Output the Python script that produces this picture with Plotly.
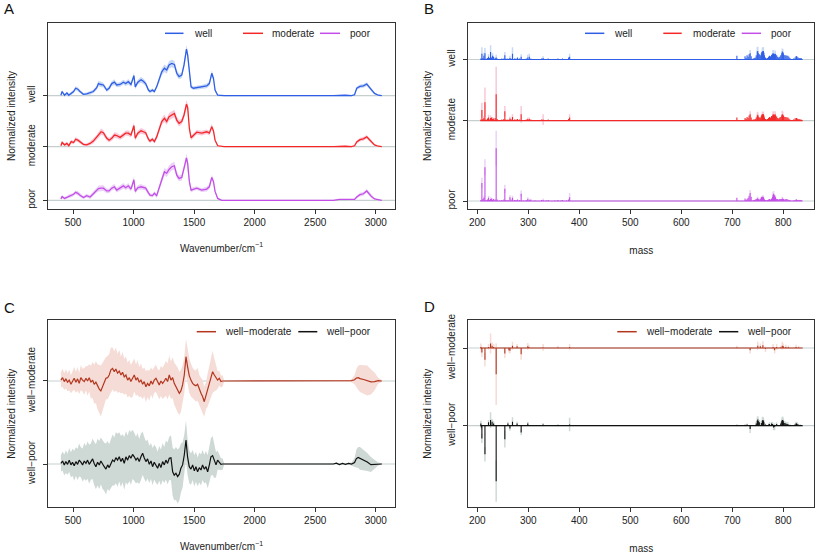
import plotly.graph_objects as go

FIG_W, FIG_H = 817, 555
FONT = "Liberation Sans, Arial, Helvetica, sans-serif"

# ---------------- Panel A: Raman spectra (mean +/- sd) ----------------
wn_A = [400, 410, 430, 450, 465, 485, 505, 522, 540, 558,
        586, 613, 641, 668, 696, 710, 732, 751, 779, 798,
        820, 842, 861, 889, 916, 935, 957, 979, 1003, 1014,
        1035, 1062, 1081, 1100, 1123, 1136, 1156, 1172, 1191, 1211,
        1233, 1255, 1274, 1293, 1315, 1337, 1357, 1376, 1398, 1417,
        1437, 1447, 1461, 1475, 1494, 1522, 1563, 1604, 1626, 1646,
        1660, 1673, 1695, 1728,
        1750, 2650, 2700, 2750, 2800, 2825, 2843, 2870, 2898, 2926,
        2945, 2965, 2990, 3021, 3050]
well_A = [0.01, 0.09, 0.01, 0.06, 0.01, 0.05, 0.09, 0.16, 0.14, 0.09,
          0.03, 0.04, 0.06, 0.09, 0.17, 0.26, 0.24, 0.23, 0.12, 0.16,
          0.26, 0.29, 0.23, 0.24, 0.29, 0.26, 0.30, 0.24, 0.43, 0.19,
          0.29, 0.34, 0.31, 0.26, 0.12, 0.09, 0.12, 0.09, 0.19, 0.34,
          0.51, 0.59, 0.55, 0.66, 0.69, 0.67, 0.48, 0.41, 0.44, 0.66,
          1.00, 0.87, 0.44, 0.19, 0.16, 0.17, 0.19, 0.21, 0.26, 0.48,
          0.37, 0.12, 0.01, 0.00,
          0.0, 0.0, 0.01, 0.01, 0.0, 0.02, 0.16, 0.20, 0.21, 0.25,
          0.19, 0.12, 0.05, 0.01, 0.0]
moderate_A = [0.02, 0.09, 0.04, 0.07, 0.02, 0.11, 0.09, 0.16, 0.14, 0.11,
              0.05, 0.04, 0.07, 0.12, 0.20, 0.25, 0.32, 0.30, 0.18, 0.14,
              0.18, 0.25, 0.24, 0.20, 0.25, 0.29, 0.29, 0.25, 0.45, 0.18,
              0.29, 0.34, 0.32, 0.30, 0.16, 0.12, 0.16, 0.11, 0.21, 0.36,
              0.54, 0.61, 0.54, 0.64, 0.68, 0.71, 0.57, 0.50, 0.54, 0.68,
              0.91, 0.84, 0.39, 0.19, 0.24, 0.31, 0.29, 0.32, 0.29, 0.43,
              0.34, 0.14, 0.02, 0.00,
              0.0, 0.0, 0.01, 0.01, 0.0, 0.02, 0.10, 0.15, 0.17, 0.21,
              0.16, 0.10, 0.04, 0.01, 0.0]
poor_A = [0.03, 0.08, 0.04, 0.06, 0.09, 0.10, 0.13, 0.17, 0.15, 0.11,
          0.06, 0.10, 0.07, 0.14, 0.22, 0.25, 0.26, 0.26, 0.20, 0.20,
          0.26, 0.29, 0.22, 0.27, 0.31, 0.27, 0.31, 0.24, 0.44, 0.19,
          0.27, 0.29, 0.27, 0.26, 0.16, 0.11, 0.10, 0.15, 0.10, 0.29,
          0.44, 0.61, 0.58, 0.66, 0.72, 0.74, 0.54, 0.47, 0.49, 0.69,
          0.91, 0.79, 0.40, 0.22, 0.24, 0.26, 0.22, 0.24, 0.29, 0.49,
          0.40, 0.19, 0.04, 0.00,
          0.0, 0.0, 0.02, 0.02, 0.01, 0.02, 0.07, 0.12, 0.14, 0.20,
          0.14, 0.08, 0.03, 0.01, 0.0]
sd_well_A = [0.02, 0.03, 0.03, 0.03, 0.03, 0.03, 0.04, 0.04, 0.04, 0.03,
             0.03, 0.03, 0.04, 0.04, 0.05, 0.06, 0.06, 0.05, 0.04, 0.05,
             0.05, 0.06, 0.05, 0.05, 0.05, 0.05, 0.06, 0.05, 0.06, 0.05,
             0.05, 0.06, 0.06, 0.05, 0.04, 0.04, 0.04, 0.04, 0.05, 0.06,
             0.07, 0.08, 0.08, 0.08, 0.08, 0.08, 0.07, 0.06, 0.06, 0.07,
             0.09, 0.08, 0.06, 0.04, 0.04, 0.04, 0.04, 0.05, 0.05, 0.06,
             0.05, 0.04, 0.02, 0.01,
             0.0, 0.0, 0.01, 0.01, 0.01, 0.02, 0.03, 0.04, 0.04, 0.04,
             0.04, 0.03, 0.02, 0.01, 0.0]
sd_moderate_A = [0.02, 0.03, 0.03, 0.04, 0.03, 0.04, 0.04, 0.05, 0.04, 0.04,
                 0.03, 0.03, 0.04, 0.05, 0.05, 0.06, 0.07, 0.06, 0.05, 0.05,
                 0.05, 0.06, 0.06, 0.05, 0.06, 0.05, 0.06, 0.05, 0.07, 0.05,
                 0.05, 0.06, 0.06, 0.05, 0.05, 0.04, 0.04, 0.04, 0.05, 0.06,
                 0.07, 0.08, 0.07, 0.08, 0.08, 0.08, 0.07, 0.07, 0.06, 0.07,
                 0.09, 0.08, 0.06, 0.05, 0.05, 0.05, 0.05, 0.05, 0.05, 0.06,
                 0.05, 0.04, 0.02, 0.01,
                 0.0, 0.0, 0.01, 0.01, 0.01, 0.02, 0.03, 0.04, 0.04, 0.04,
                 0.04, 0.03, 0.02, 0.01, 0.0]
sd_poor_A = [0.02, 0.03, 0.03, 0.03, 0.04, 0.04, 0.04, 0.04, 0.05, 0.04,
             0.03, 0.04, 0.04, 0.05, 0.05, 0.06, 0.06, 0.06, 0.05, 0.05,
             0.05, 0.06, 0.05, 0.06, 0.06, 0.05, 0.06, 0.05, 0.07, 0.05,
             0.05, 0.06, 0.05, 0.05, 0.05, 0.04, 0.04, 0.04, 0.05, 0.06,
             0.07, 0.08, 0.08, 0.08, 0.08, 0.08, 0.07, 0.06, 0.07, 0.07,
             0.09, 0.08, 0.06, 0.05, 0.04, 0.04, 0.04, 0.05, 0.05, 0.06,
             0.05, 0.04, 0.02, 0.01,
             0.0, 0.0, 0.01, 0.01, 0.01, 0.02, 0.03, 0.04, 0.04, 0.04,
             0.04, 0.03, 0.02, 0.01, 0.0]
groups_A = ["well", "moderate", "poor"]
offsets_A = [2.24, 1.148, 0.0]

# ---------------- Panel B: mass spectra ----------------
mass_B = [207, 209, 211, 213, 215, 217, 220, 222, 224, 226,
          228, 230, 232, 235, 237, 239, 244, 248, 252, 254,
          256, 260, 264, 266, 269, 273, 276, 279, 283, 286,
          290, 296, 299, 302, 305, 313, 326, 329, 335, 339,
          352, 358, 364, 367, 375, 379, 381,
          709, 725, 727, 729, 731, 733, 735, 737, 741, 743,
          745, 747, 749, 750, 751, 753, 755, 757, 758, 759,
          760, 761, 762, 763, 765, 767, 769, 771, 773, 775,
          777, 779, 780, 781, 782, 783, 784, 785, 787, 789,
          791, 793, 795, 797, 798, 799, 800, 801, 803, 805,
          807, 809, 811, 813, 820, 823, 825, 826, 827, 829,
          831, 833, 835]
well_B = [0.02, 0.11, 0.03, 0.07, 0.12, 0.02, 0.03, 0.05, 0.03, 0.14,
          0.04, 0.07, 0.05, 0.03, 0.04, 0.02, 0.01, 0.02, 0.02, 0.08,
          0.02, 0.02, 0.03, 0.02, 0.11, 0.02, 0.02, 0.04, 0.02, 0.05,
          0.01, 0.02, 0.04, 0.05, 0.02, 0.01, 0.02, 0.03, 0.01, 0.02,
          0.01, 0.02, 0.01, 0.02, 0.01, 0.04, 0.05,
          0.07, 0.06, 0.03, 0.08, 0.05, 0.10, 0.12, 0.06, 0.02, 0.03,
          0.04, 0.08, 0.15, 0.16, 0.12, 0.10, 0.08, 0.12, 0.14, 0.15,
          0.16, 0.16, 0.13, 0.08, 0.04, 0.02, 0.03, 0.05, 0.07, 0.06,
          0.09, 0.11, 0.12, 0.11, 0.10, 0.10, 0.11, 0.10, 0.08, 0.05,
          0.04, 0.05, 0.08, 0.12, 0.15, 0.14, 0.12, 0.09, 0.08, 0.08,
          0.07, 0.07, 0.05, 0.03, 0.02, 0.04, 0.06, 0.06, 0.05, 0.04,
          0.03, 0.03, 0.03]
moderate_B = [0.02, 0.20, 0.03, 0.05, 0.35, 0.02, 0.04, 0.06, 0.02, 0.05,
              0.06, 0.03, 0.04, 0.05, 0.50, 0.03, 0.01, 0.02, 0.03, 0.18,
              0.02, 0.02, 0.04, 0.03, 0.07, 0.02, 0.02, 0.03, 0.02, 0.12,
              0.01, 0.02, 0.03, 0.03, 0.02, 0.01, 0.02, 0.02, 0.01, 0.02,
              0.01, 0.01, 0.01, 0.01, 0.01, 0.03, 0.06,
              0.06, 0.05, 0.03, 0.07, 0.05, 0.10, 0.12, 0.06, 0.02, 0.02,
              0.03, 0.06, 0.10, 0.11, 0.08, 0.06, 0.06, 0.09, 0.11, 0.12,
              0.12, 0.12, 0.10, 0.06, 0.03, 0.02, 0.03, 0.05, 0.07, 0.06,
              0.09, 0.10, 0.12, 0.11, 0.10, 0.11, 0.12, 0.10, 0.08, 0.05,
              0.04, 0.06, 0.07, 0.10, 0.12, 0.11, 0.10, 0.08, 0.07, 0.07,
              0.06, 0.06, 0.04, 0.02, 0.02, 0.04, 0.05, 0.05, 0.04, 0.03,
              0.03, 0.02, 0.02]
poor_B = [0.02, 0.34, 0.04, 0.06, 0.64, 0.02, 0.03, 0.06, 0.02, 0.04,
          0.05, 0.02, 0.04, 0.03, 1.00, 0.03, 0.01, 0.02, 0.03, 0.23,
          0.02, 0.02, 0.07, 0.03, 0.06, 0.02, 0.02, 0.03, 0.02, 0.14,
          0.01, 0.02, 0.04, 0.02, 0.03, 0.01, 0.02, 0.02, 0.01, 0.02,
          0.01, 0.02, 0.01, 0.02, 0.01, 0.03, 0.07,
          0.06, 0.05, 0.02, 0.04, 0.06, 0.10, 0.15, 0.08, 0.02, 0.02,
          0.03, 0.04, 0.05, 0.05, 0.04, 0.03, 0.05, 0.07, 0.08, 0.07,
          0.08, 0.07, 0.05, 0.03, 0.02, 0.01, 0.02, 0.03, 0.04, 0.03,
          0.05, 0.08, 0.12, 0.14, 0.12, 0.10, 0.08, 0.06, 0.04, 0.04,
          0.03, 0.04, 0.04, 0.04, 0.05, 0.04, 0.04, 0.03, 0.03, 0.04,
          0.04, 0.03, 0.02, 0.02, 0.01, 0.02, 0.03, 0.03, 0.02, 0.02,
          0.02, 0.02, 0.02]
band_mass_B = [209, 213, 215, 222, 226, 230, 237, 254, 264, 269,
               286, 299, 302, 329, 381, 735, 749, 750, 759, 760,
               761, 780, 781, 784, 798, 799]
sd_well_B = [0.12, 0.06, 0.10, 0.05, 0.13, 0.05, 0.05, 0.06, 0.04, 0.12,
             0.05, 0.05, 0.06, 0.03, 0.06, 0.06, 0.08, 0.08, 0.07, 0.07,
             0.07, 0.06, 0.06, 0.06, 0.06, 0.06]
sd_moderate_B = [0.14, 0.04, 0.28, 0.05, 0.05, 0.04, 0.52, 0.10, 0.04, 0.05,
                 0.16, 0.03, 0.03, 0.10, 0.06, 0.06, 0.06, 0.06, 0.05, 0.05,
                 0.05, 0.06, 0.06, 0.06, 0.07, 0.06]
sd_poor_B = [0.10, 0.04, 0.15, 0.04, 0.04, 0.03, 0.33, 0.08, 0.04, 0.04,
             0.06, 0.03, 0.03, 0.03, 0.08, 0.06, 0.03, 0.03, 0.03, 0.03,
             0.03, 0.05, 0.05, 0.03, 0.03, 0.03]
offsets_B = [2.679, 1.521, 0.0]

# ---------------- Panel C: Raman difference spectra ----------------
wn_C = [400, 414, 428, 441, 455, 469, 483, 496, 510, 524,
        538, 551, 565, 579, 593, 607, 620, 634, 648, 662,
        675, 689, 703, 717, 730, 744, 758, 772, 786, 799,
        813, 827, 841, 854, 868, 882, 896, 909, 923, 937,
        951, 965, 978, 992, 1006, 1020, 1033, 1047, 1061, 1075,
        1088, 1102, 1116, 1130, 1144, 1157, 1171, 1185, 1199, 1212,
        1226, 1240, 1254, 1267, 1281, 1295, 1309, 1323, 1336, 1350,
        1364, 1378, 1391, 1405, 1419, 1433, 1446, 1460, 1474, 1488,
        1502, 1515, 1529, 1543, 1557, 1570, 1584, 1598, 1612, 1626,
        1639, 1653, 1667, 1681, 1694, 1708, 1722, 1736,
        1750, 2650, 2675, 2700, 2725, 2750, 2775, 2800, 2825, 2840,
        2855, 2870, 2900, 2930, 2960, 2990, 3020, 3050]
wm_C = [0.03, 0.11, -0.02, 0.07, -0.04, 0.03, -0.11, 0.00, 0.09, -0.04,
        0.07, -0.08, 0.11, 0.03, -0.02, 0.09, 0.00, 0.11, -0.04, 0.03,
        -0.11, -0.04, -0.19, -0.27, -0.33, -0.19, -0.04, 0.09, 0.11, 0.20,
        0.37, 0.42, 0.31, 0.40, 0.26, 0.33, 0.20, 0.29, 0.14, 0.20,
        0.03, 0.11, -0.02, 0.07, 0.20, 0.03, 0.11, -0.04, 0.03, -0.11,
        -0.02, -0.19, -0.08, -0.16, 0.00, -0.11, 0.03, 0.09, -0.04, -0.13,
        0.00, -0.08, 0.00, 0.09, -0.02, 0.20, 0.03, 0.11, -0.08, -0.19,
        -0.30, -0.41, -0.33, -0.13, 0.20, 0.81, 0.48, 0.18, 0.03, -0.08,
        -0.13, -0.16, -0.11, -0.30, -0.41, -0.52, -0.69, -0.49, -0.30, -0.08,
        0.14, 0.31, 0.20, 0.09, 0.03, 0.09, -0.02, 0.00,
        0.0, 0.0, 0.01, -0.01, 0.01, 0.00, -0.01, 0.01, 0.04, 0.10,
        0.11, 0.08, 0.05, 0.02, -0.03, -0.02, 0.01, 0.0]
wp_C = [0.02, 0.10, -0.03, 0.08, -0.01, 0.13, -0.03, 0.06, -0.06, 0.08,
        -0.01, 0.13, 0.06, -0.03, 0.10, 0.02, 0.13, -0.01, 0.08, 0.17,
        0.02, -0.09, 0.06, -0.03, 0.10, -0.01, -0.09, -0.17, -0.03, -0.12,
        0.02, 0.13, 0.08, 0.21, 0.13, 0.24, 0.08, 0.19, 0.02, 0.24,
        0.13, 0.28, 0.19, 0.32, 0.24, 0.13, 0.21, 0.08, 0.24, 0.36,
        0.21, 0.08, 0.17, -0.01, 0.10, -0.09, 0.06, -0.03, -0.14, 0.02,
        -0.12, 0.08, -0.03, 0.13, 0.02, 0.19, 0.21, -0.26, -0.37, -0.31,
        -0.42, -0.34, -0.14, -0.03, 0.30, 0.80, 0.24, -0.09, -0.17, -0.03,
        -0.23, -0.09, -0.26, -0.12, -0.20, -0.03, -0.17, -0.09, -0.26, -0.03,
        0.24, 0.28, 0.08, -0.03, 0.13, 0.06, -0.01, 0.00,
        0.0, 0.0, 0.03, -0.02, 0.02, -0.01, 0.02, 0.00, 0.05, 0.18,
        0.22, 0.19, 0.13, 0.07, -0.02, -0.01, 0.00, 0.0]
sd_wm_C = [0.25, 0.30, 0.28, 0.32, 0.30, 0.35, 0.30, 0.33, 0.38, 0.35,
           0.40, 0.35, 0.42, 0.38, 0.45, 0.40, 0.50, 0.45, 0.55, 0.60,
           0.65, 0.70, 0.75, 0.80, 0.85, 0.80, 0.75, 0.70, 0.72, 0.70,
           0.75, 0.70, 0.68, 0.72, 0.65, 0.70, 0.62, 0.68, 0.60, 0.62,
           0.58, 0.60, 0.55, 0.60, 0.55, 0.52, 0.58, 0.50, 0.55, 0.50,
           0.48, 0.52, 0.45, 0.50, 0.45, 0.48, 0.42, 0.46, 0.44, 0.48,
           0.50, 0.52, 0.55, 0.58, 0.60, 0.65, 0.62, 0.68, 0.70, 0.72,
           0.75, 0.72, 0.70, 0.65, 0.60, 0.60, 0.62, 0.58, 0.55, 0.52,
           0.50, 0.52, 0.55, 0.50, 0.52, 0.55, 0.50, 0.45, 0.55, 0.62,
           0.68, 0.70, 0.55, 0.40, 0.30, 0.25, 0.20, 0.18,
           0.0, 0.01, 0.02, 0.02, 0.02, 0.02, 0.03, 0.05, 0.15, 0.30,
           0.40, 0.45, 0.48, 0.50, 0.42, 0.30, 0.10, 0.03]
sd_wp_C = [0.28, 0.32, 0.35, 0.38, 0.35, 0.40, 0.42, 0.45, 0.50, 0.48,
           0.52, 0.55, 0.50, 0.55, 0.60, 0.58, 0.62, 0.65, 0.60, 0.68,
           0.72, 0.75, 0.78, 0.80, 0.78, 0.82, 0.80, 0.85, 0.80, 0.78,
           0.82, 0.85, 0.80, 0.85, 0.88, 0.82, 0.85, 0.80, 0.88, 0.85,
           0.82, 0.85, 0.88, 0.82, 0.80, 0.78, 0.82, 0.75, 0.78, 0.72,
           0.70, 0.68, 0.65, 0.62, 0.60, 0.62, 0.58, 0.60, 0.55, 0.58,
           0.60, 0.62, 0.60, 0.65, 0.70, 0.72, 0.75, 0.80, 0.85, 0.88,
           0.90, 0.88, 0.82, 0.75, 0.68, 0.65, 0.60, 0.55, 0.52, 0.50,
           0.52, 0.50, 0.48, 0.50, 0.52, 0.50, 0.48, 0.52, 0.55, 0.58,
           0.62, 0.65, 0.55, 0.42, 0.32, 0.25, 0.20, 0.18,
           0.0, 0.01, 0.03, 0.03, 0.03, 0.03, 0.03, 0.05, 0.15, 0.30,
           0.35, 0.38, 0.35, 0.30, 0.25, 0.15, 0.05, 0.02]
groups_C = ["well\u2212moderate", "well\u2212poor"]
offsets_C = [2.767, 0.0]

# ---------------- Panel D: mass difference spectra ----------------
mass_D_wm = [207, 208, 209, 215, 222, 226, 229, 232, 237, 254,
             262, 264, 269, 278, 286, 299, 301, 329, 358, 381,
             709, 735, 750, 755, 760, 765, 780, 783, 787, 795,
             798, 800, 805, 810, 825, 830]
wm_D = [0.02, -0.02, -0.08, -0.21, 0.02, 0.08, 0.04, 0.02, -0.47, -0.10,
        -0.04, -0.05, 0.04, 0.03, -0.11, 0.03, 0.02, 0.01, 0.01, 0.02,
        0.01, -0.04, 0.04, 0.03, 0.05, -0.02, 0.02, -0.04, 0.02, 0.01,
        0.04, 0.03, 0.02, 0.015, 0.02, 0.01]
sd_wm_D = [0.06, 0.06, 0.08, 0.12, 0.05, 0.18, 0.06, 0.05, 0.55, 0.08,
           0.04, 0.05, 0.07, 0.04, 0.10, 0.06, 0.04, 0.06, 0.03, 0.05,
           0.03, 0.06, 0.07, 0.05, 0.07, 0.05, 0.05, 0.06, 0.05, 0.03,
           0.07, 0.05, 0.04, 0.03, 0.04, 0.03]
mass_D_wp = [207, 208, 209, 215, 222, 226, 229, 232, 237, 254,
             260, 264, 269, 278, 286, 299, 329, 358, 381, 709,
             725, 729, 735, 747, 749, 750, 751, 753, 757, 759,
             760, 761, 762, 765, 771, 773, 777, 779, 781, 783,
             787, 795, 797, 798, 799, 800, 801, 803, 805, 807,
             809, 813, 823, 825, 826, 827, 829, 833]
wp_D = [0.04, -0.03, -0.23, -0.51, 0.06, 0.10, 0.07, 0.04, -0.99, -0.24,
        0.04, -0.05, 0.07, 0.04, -0.12, 0.04, 0.02, 0.01, 0.02, 0.01,
        0.01, 0.02, -0.06, 0.04, 0.09, 0.11, 0.08, 0.06, 0.05, 0.09,
        0.10, 0.09, 0.06, 0.02, 0.02, 0.03, 0.04, 0.03, -0.03, -0.02,
        0.03, 0.04, 0.08, 0.10, 0.10, 0.08, 0.05, 0.05, 0.04, 0.03,
        0.03, 0.01, 0.02, 0.04, 0.04, 0.03, 0.02, 0.01]
sd_wp_D = [0.05, 0.04, 0.08, 0.13, 0.04, 0.14, 0.05, 0.04, 0.37, 0.15,
           0.03, 0.04, 0.08, 0.03, 0.05, 0.03, 0.03, 0.02, 0.12, 0.02,
           0.02, 0.02, 0.07, 0.04, 0.06, 0.06, 0.05, 0.04, 0.04, 0.06,
           0.06, 0.05, 0.04, 0.02, 0.02, 0.03, 0.03, 0.03, 0.05, 0.06,
           0.03, 0.03, 0.05, 0.06, 0.06, 0.05, 0.04, 0.03, 0.03, 0.03,
           0.03, 0.02, 0.02, 0.03, 0.03, 0.03, 0.02, 0.02]
offsets_D = [1.3875, 0.0]

ticks_wn = [500, 1000, 1500, 2000, 2500, 3000]
ticks_mass = [200, 300, 400, 500, 600, 700, 800]

# ---------------- styles ----------------
COL = {"well": "#2f5fe6", "moderate": "#f42828", "poor": "#c44ee8",
       "wm": "#b3361f", "wp": "#111111"}
BAND = {"well": "#c9d9f5", "moderate": "#f9c8d8", "poor": "#ecd2f6",
        "wm": "#f5dcd6", "wp": "#ced9d6"}
GREY = "#c6cfcf"
AXC = "#333333"

for arr in (well_A, moderate_A, poor_A, sd_well_A, sd_moderate_A, sd_poor_A):
    assert len(arr) == len(wn_A), len(arr)
for arr in (well_B, moderate_B, poor_B):
    assert len(arr) == len(mass_B), len(arr)
for arr in (sd_well_B, sd_moderate_B, sd_poor_B):
    assert len(arr) == len(band_mass_B)
for arr in (wm_C, wp_C, sd_wm_C, sd_wp_C):
    assert len(arr) == len(wn_C), len(arr)
assert len(wm_D) == len(mass_D_wm) == len(sd_wm_D)
assert len(wp_D) == len(mass_D_wp) == len(sd_wp_D)


def px(x):
    return x / FIG_W


def py(y):
    return 1 - y / FIG_H


fig = go.Figure()


def add_band_line(x, vals, sd, off, key, xa, ya):
    up = [off + v + s for v, s in zip(vals, sd)]
    lo = [off + v - s for v, s in zip(vals, sd)]
    fig.add_trace(go.Scatter(x=x + x[::-1], y=up + lo[::-1], fill="toself",
                             fillcolor=BAND[key], line=dict(width=0),
                             mode="lines", hoverinfo="skip", showlegend=False,
                             xaxis=xa, yaxis=ya))
    return [off + v for v in vals]


def stems(xs, lows, highs):
    X, Y = [], []
    for x, a, b in zip(xs, lows, highs):
        X += [x, x, None]
        Y += [a, b, None]
    return X, Y


# Panel A
lineA = []
for g, vals, sd, off in zip(groups_A, [well_A, moderate_A, poor_A],
                            [sd_well_A, sd_moderate_A, sd_poor_A], offsets_A):
    lineA.append((g, add_band_line(wn_A, vals, sd, off, g, "x", "y")))
for g, yy in lineA:
    fig.add_trace(go.Scatter(x=wn_A, y=yy, mode="lines", name=g,
                             line=dict(color=COL[g], width=1.3),
                             showlegend=False, xaxis="x", yaxis="y"))

# Panel B
for g, vals, sd, off in zip(groups_A, [well_B, moderate_B, poor_B],
                            [sd_well_B, sd_moderate_B, sd_poor_B], offsets_B):
    lookup = dict(zip(mass_B, vals))
    lo = [off + lookup[m] - s for m, s in zip(band_mass_B, sd)]
    hi = [off + lookup[m] + s for m, s in zip(band_mass_B, sd)]
    X, Y = stems(band_mass_B, lo, hi)
    fig.add_trace(go.Scatter(x=X, y=Y, mode="lines", line=dict(color=BAND[g], width=1.5),
                             hoverinfo="skip", showlegend=False, xaxis="x2", yaxis="y2"))
    fig.add_trace(go.Scatter(x=[mass_B[0] - 1, mass_B[-1] + 3], y=[off, off], mode="lines",
                             line=dict(color=COL[g], width=1.2), hoverinfo="skip",
                             showlegend=False, xaxis="x2", yaxis="y2"))
    X, Y = stems(mass_B, [off] * len(mass_B), [off + v for v in vals])
    fig.add_trace(go.Scatter(x=X, y=Y, mode="lines", name=g,
                             line=dict(color=COL[g], width=1.1),
                             showlegend=False, xaxis="x2", yaxis="y2"))

# Panel C
lineC = []
for key, vals, sd, off in zip(["wm", "wp"], [wm_C, wp_C], [sd_wm_C, sd_wp_C], offsets_C):
    lineC.append((key, add_band_line(wn_C, vals, sd, off, key, "x3", "y3")))
for key, yy in lineC:
    fig.add_trace(go.Scatter(x=wn_C, y=yy, mode="lines",
                             line=dict(color=COL[key], width=1.2),
                             showlegend=False, xaxis="x3", yaxis="y3"))

# Panel D
for key, ms, vals, sd, off in zip(["wm", "wp"], [mass_D_wm, mass_D_wp], [wm_D, wp_D],
                                  [sd_wm_D, sd_wp_D], offsets_D):
    X, Y = stems(ms, [off + v - s for v, s in zip(vals, sd)],
                 [off + v + s for v, s in zip(vals, sd)])
    fig.add_trace(go.Scatter(x=X, y=Y, mode="lines", line=dict(color=BAND[key], width=1.5),
                             hoverinfo="skip", showlegend=False, xaxis="x4", yaxis="y4"))
    fig.add_trace(go.Scatter(x=[mass_B[0] - 1, mass_B[-1] + 3], y=[off, off], mode="lines",
                             line=dict(color=COL[key], width=1.2), hoverinfo="skip",
                             showlegend=False, xaxis="x4", yaxis="y4"))
    X, Y = stems(ms, [off] * len(ms), [off + v for v in vals])
    fig.add_trace(go.Scatter(x=X, y=Y, mode="lines", line=dict(color=COL[key], width=1.1),
                             showlegend=False, xaxis="x4", yaxis="y4"))

# ---------------- axes ----------------
dom_left = [px(48), px(395)]
dom_right = [px(468.3), px(814.3)]
dom_top = [py(209), py(23)]
dom_bot = [py(507.3), py(320)]
tickfont = dict(family=FONT, size=10, color="#222")
titlefont = dict(family=FONT, size=10, color="#222")


def xax(domain, rng, ticks, anchor, title, standoff):
    return dict(domain=domain, range=rng, tickvals=ticks, ticktext=[str(t) for t in ticks],
                showline=True, mirror=True, linecolor=AXC, linewidth=1, ticks="outside",
                ticklen=4, tickcolor=AXC, showgrid=False, zeroline=False,
                tickfont=tickfont, anchor=anchor, fixedrange=True,
                title=dict(text=title, font=titlefont, standoff=standoff))


def yax(domain, rng, vals, labels, anchor, standoff):
    return dict(domain=domain, range=rng, tickvals=vals, ticktext=labels, tickangle=-90,
                showline=True, mirror=True, linecolor=AXC, linewidth=1, ticks="outside",
                ticklen=4, tickcolor=AXC, showgrid=False, zeroline=False,
                tickfont=tickfont, anchor=anchor, fixedrange=True, ticklabelstandoff=4,
                title=dict(text="Normalized intensity", font=titlefont, standoff=standoff))


WN_TITLE = "Wavenumber/cm<sup>\u22121</sup>"
fig.update_layout(
    width=FIG_W, height=FIG_H, margin=dict(l=0, r=0, t=0, b=0, autoexpand=False),
    paper_bgcolor="white", plot_bgcolor="white", showlegend=False,
    font=dict(family=FONT, size=10, color="#222"),
    xaxis=xax(dom_left, [293.6, 3159], ticks_wn, "y", WN_TITLE, 17),
    yaxis=yax(dom_top, [-0.186, 3.797], offsets_A, groups_A, "x", 8),
    xaxis2=xax(dom_right, [182.35, 860.8], ticks_mass, "y2", "mass", 19),
    yaxis2=yax(dom_top, [-0.151, 3.37], offsets_B, groups_A, "x2", 12),
    xaxis3=xax(dom_left, [293.6, 3159], ticks_wn, "y3", WN_TITLE, 17),
    yaxis3=yax(dom_bot, [-1.443, 4.8], offsets_C, groups_C, "x3", 8),
    xaxis4=xax(dom_right, [182.35, 860.8], ticks_mass, "y4", "mass", 19),
    yaxis4=yax(dom_bot, [-1.457, 1.8875], offsets_D, groups_C, "x4", 12),
)

# grey reference lines at each baseline
shapes = []
for n, offs in [("", offsets_A), ("2", offsets_B), ("3", offsets_C), ("4", offsets_D)]:
    for o in offs:
        shapes.append(dict(type="line", xref=f"x{n} domain", yref=f"y{n}", x0=0, x1=1,
                           y0=o, y1=o, line=dict(color=GREY, width=1.2), layer="below"))

# manual legends
ann = []


def legend_item(x0, x1, xt, y, color, text):
    shapes.append(dict(type="line", xref="paper", yref="paper", x0=px(x0), x1=px(x1),
                       y0=py(y), y1=py(y), line=dict(color=color, width=1.5)))
    ann.append(dict(text=text, xref="paper", yref="paper", x=px(xt), y=py(y),
                    xanchor="left", yanchor="middle", showarrow=False,
                    font=dict(family=FONT, size=10, color="#222")))


legend_item(165, 183.5, 192, 33.3, COL["well"], "well")
legend_item(243, 263, 270, 33.3, COL["moderate"], "moderate")
legend_item(320, 340, 348, 33.3, COL["poor"], "poor")
legend_item(585, 604.3, 612.3, 33.3, COL["well"], "well")
legend_item(663.3, 681.7, 690.7, 33.3, COL["moderate"], "moderate")
legend_item(741.7, 761, 769, 33.3, COL["poor"], "poor")
legend_item(196.7, 216, 223.3, 331.7, COL["wm"], groups_C[0])
legend_item(298.3, 317.3, 324, 331.7, COL["wp"], groups_C[1])
legend_item(617.3, 636.7, 644.3, 331.7, COL["wm"], groups_C[0])
legend_item(719, 738.3, 745, 331.7, COL["wp"], groups_C[1])

# panel letters
for letter, x, y in [("A", 2, 8.5), ("B", 422, 8.5), ("C", 2, 307), ("D", 422, 306)]:
    ann.append(dict(text=letter, xref="paper", yref="paper", x=px(x), y=py(y),
                    xanchor="left", yanchor="middle", showarrow=False,
                    font=dict(family=FONT, size=15, color="#111")))

fig.update_layout(shapes=shapes, annotations=ann)
fig.write_html("out.html", config={"displayModeBar": False},
               post_script="document.body.style.margin='0';"
                           "document.body.style.overflow='hidden';")
